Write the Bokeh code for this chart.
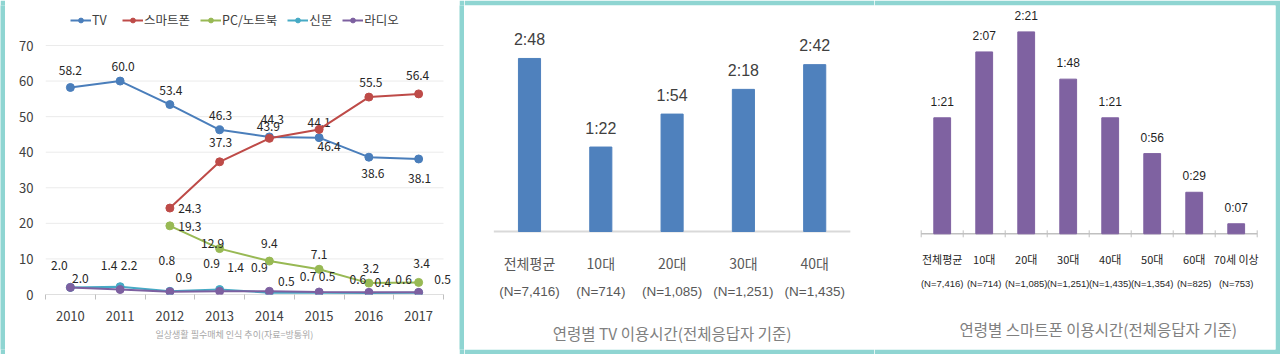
import math
from bokeh.plotting import figure
from bokeh.layouts import row, column
from bokeh.models import (ColumnDataSource, Range1d, FixedTicker, Legend, LegendItem, Title)
from bokeh.core.properties import value
from bokeh.embed import file_html
from bokeh.resources import INLINE

# ---------------- data ----------------
years = [2010, 2011, 2012, 2013, 2014, 2015, 2016, 2017]
y_ticks = [0, 10, 20, 30, 40, 50, 60, 70]

tv = [58.2, 60.0, 53.4, 46.3, 44.3, 44.1, 38.6, 38.1]
smartphone_years = [2012, 2013, 2014, 2015, 2016, 2017]
smartphone = [24.3, 37.3, 43.9, 46.4, 55.5, 56.4]
pc_years = [2012, 2013, 2014, 2015, 2016, 2017]
pc = [19.3, 12.9, 9.4, 7.1, 3.2, 3.4]
newspaper = [2.0, 2.2, 0.9, 1.4, 0.5, 0.5, 0.4, 0.5]
radio = [2.0, 1.4, 0.8, 0.9, 0.9, 0.7, 0.6, 0.6]

series_names = ["TV", "스마트폰", "PC/노트북", "신문", "라디오"]
left_caption = "일상생활 필수매체 인식 추이(자료=방통위)"

tv_age_cats = ["전체평균", "10대", "20대", "30대", "40대"]
tv_age_n = ["(N=7,416)", "(N=714)", "(N=1,085)", "(N=1,251)", "(N=1,435)"]
tv_time = ["2:48", "1:22", "1:54", "2:18", "2:42"]
tv_caption = "연령별 TV 이용시간(전체응답자 기준)"

sp_age_cats = ["전체평균", "10대", "20대", "30대", "40대", "50대", "60대", "70세 이상"]
sp_age_n = ["(N=7,416)", "(N=714)", "(N=1,085)", "(N=1,251)", "(N=1,435)",
            "(N=1,354)", "(N=825)", "(N=753)"]
sp_time = ["1:21", "2:07", "2:21", "1:48", "1:21", "0:56", "0:29", "0:07"]
sp_caption = "연령별 스마트폰 이용시간(전체응답자 기준)"

# ---------------- styles ----------------
TEAL = "#8fd5d2"
C_TV, C_SP, C_PC, C_NEWS, C_RADIO = "#4a7ebb", "#be4b48", "#98b954", "#46aac5", "#7d60a0"
KR = "Noto Sans CJK KR"
NUM = "Liberation Sans"

# label offsets (screen px) for the line chart
tv_dx = [0, 3, 1, 1, 3, 0, 4, 1]
tv_dy = [-17, -15, -14, -14, -17, -15, 16, 20]
sp_dx = [20, 1, -1, 10, 2, -1]
sp_dy = [0, -19, -12, 17, -15, -18]
pc_dx = [20, -7, 0, 0, 2, 3]
pc_dy = [1, -5, -18, -15, -15, -19]
radio_dx = [-11, -11, -3, -8, -10, -11, -11, -15]
radio_dy = [-22, -24, -31, -28, -24, -16, -13, -13]
news_dx = [10, 9, 14, 16, 17, 8, 14, 24]
news_dy = [-9, -21, -14, -22, -11, -16, -11, -13]


def to_minutes(s):
    h, m = s.split(":")
    return int(h) * 60 + int(m)


def strip(w, h):
    s = figure(width=w, height=h, output_backend="svg", toolbar_location=None,
               x_axis_location=None, y_axis_location=None, min_border=0,
               outline_line_color=None, background_fill_color=TEAL, border_fill_color=TEAL)
    s.grid.visible = False
    return s


# ---------------- left: line chart ----------------
PX_PER_UNIT = 249 / 70.0
PX_PER_YEAR = 49.75
FRAME_W = 454 - 40 - 4
x_lo = years[0] - 0.5
x_hi = years[-1] + 0.5
left = figure(width=454, height=344, output_backend="svg", toolbar_location=None,
              x_range=Range1d(x_lo, x_lo + FRAME_W / PX_PER_YEAR),
              y_range=Range1d(0, 289 / PX_PER_UNIT),
              min_border_left=40, min_border_right=4, min_border_top=0, min_border_bottom=55,
              outline_line_color=None, background_fill_color="white", border_fill_color="white")

left.grid.visible = False
# horizontal gridlines and base line only across the category span
left.segment(x0=x_lo, x1=x_hi, y0=y_ticks[1:], y1=y_ticks[1:], line_color="#ebebeb", line_width=1)
left.segment(x0=x_lo, x1=x_hi, y0=0, y1=0, line_color="#bfbfbf", line_width=1)

yax = left.yaxis[0]
yax.ticker = FixedTicker(ticks=y_ticks)
yax.axis_line_color = None
yax.major_tick_line_color = None
yax.minor_tick_line_color = None
yax.major_tick_in = 0
yax.major_tick_out = 0
yax.major_label_standoff = 12
yax.major_label_text_font = KR
yax.major_label_text_font_size = "13px"
yax.major_label_text_color = "#404040"

xax = left.xaxis[0]
xax.ticker = FixedTicker(ticks=years, minor_ticks=[y - 0.5 for y in years] + [x_hi])
xax.axis_line_color = None
xax.major_tick_line_color = None
xax.major_tick_in = 0
xax.major_tick_out = 0
xax.minor_tick_line_color = "#bfbfbf"
xax.minor_tick_in = 0
xax.minor_tick_out = 5
xax.major_label_standoff = 11
xax.major_label_text_font = KR
xax.major_label_text_font_size = "13px"
xax.major_label_text_color = "#404040"

caption = Title(text=left_caption, align="left", offset=110, text_font=KR,
                text_font_size="9px", text_font_style="normal", text_color="#a6a6a6",
                standoff=5)
left.add_layout(caption, "below")

series = [
    (years, tv, C_TV, tv_dx, tv_dy),
    (smartphone_years, smartphone, C_SP, sp_dx, sp_dy),
    (pc_years, pc, C_PC, pc_dx, pc_dy),
    (years, newspaper, C_NEWS, news_dx, news_dy),
    (years, radio, C_RADIO, radio_dx, radio_dy),
]
items = []
for name, (xs, ys, col, dx, dy) in zip(series_names, series):
    src = ColumnDataSource(dict(x=xs, y=ys, lab=[f"{v:.1f}" for v in ys], dx=dx, dy=dy))
    lr = left.line("x", "y", source=src, line_color=col, line_width=2)
    sr = left.scatter("x", "y", source=src, size=8, fill_color=col, line_color=col)
    items.append(LegendItem(label=name, renderers=[lr, sr]))
    left.text("x", "y", text="lab", source=src, x_offset="dx", y_offset="dy",
              text_align="center", text_baseline="middle",
              text_font=value(KR), text_font_size="12px", text_color="#262626")

legend = Legend(items=items, orientation="horizontal", location=(25, 265),
                border_line_color=None, background_fill_alpha=0,
                label_text_font=KR, label_text_font_size="12.5px", label_text_color="#404040",
                glyph_width=21, glyph_height=12, label_standoff=1, spacing=10,
                padding=0, margin=0)
left.add_layout(legend, "center")


# ---------------- bar charts ----------------
def bar_chart(width, cats, ns, times, color, x_rng, y_rng, bar_w, cfg, borders):
    bl, br = borders
    p = figure(width=width + bl + br, height=354, output_backend="svg", toolbar_location=None,
               x_range=Range1d(*x_rng), y_range=Range1d(*y_rng),
               x_axis_location=None, y_axis_location=None,
               min_border_left=bl, min_border_right=br, min_border_top=5, min_border_bottom=5,
               outline_line_color=None,
               background_fill_color="white", border_fill_color=TEAL)
    p.grid.visible = False
    idx = list(range(len(cats)))
    mins = [to_minutes(t) for t in times]
    src = ColumnDataSource(dict(x=idx, top=mins, t=times, cat=cats, n=ns, zero=[0] * len(cats)))
    p.segment(x0=-0.5, y0=0, x1=len(cats) - 0.5, y1=0,
              line_color=cfg["axis_color"], line_width=cfg["axis_width"])
    if cfg["ticks"]:
        p.scatter(x=[i - 0.5 for i in range(len(cats) + 1)], y=0, marker="dash",
                  angle=math.pi / 2, size=7, line_color=cfg["axis_color"], line_width=1)
    p.vbar(x="x", top="top", bottom=0, width=bar_w, source=src,
           fill_color=color, line_color=color)
    p.text("x", "top", text="t", source=src, y_offset=cfg["val_dy"],
           text_align="center", text_baseline="middle",
           text_font=value(NUM), text_font_size=cfg["val_size"], text_color=cfg["val_color"])
    p.text("x", "zero", text="cat", source=src, y_offset=cfg["cat_dy"],
           text_align="center", text_baseline="middle",
           text_font=value(KR), text_font_size=cfg["cat_size"], text_color=cfg["cat_color"])
    p.text("x", "zero", text="n", source=src, y_offset=cfg["n_dy"],
           text_align="center", text_baseline="middle",
           text_font=value(NUM), text_font_size=cfg["n_size"], text_color=cfg["cat_color"])
    p.text(x=[(len(cats) - 1) / 2], y=[0], text=[cfg["caption"]], x_offset=cfg["cap_dx"],
           y_offset=cfg["cap_dy"], text_align="center", text_baseline="middle",
           text_font=value(KR), text_font_size="15.5px", text_color="#808080")
    return p


mid = bar_chart(410, tv_age_cats, tv_age_n, tv_time, "#4f81bd",
                (-65 / 71.3, (410 - 65) / 71.3), (-(344 - 226) / 1.03, 226 / 1.03), 0.31,
                dict(axis_color="#d9d9d9", axis_width=2, ticks=False,
                     val_dy=-19, val_size="16px", val_color="#404040",
                     cat_dy=31, cat_size="14px", n_dy=60, n_size="13.5px", cat_color="#595959",
                     caption=tv_caption, cap_dx=0, cap_dy=101),
                (0, 0))

rgt = bar_chart(401, sp_age_cats, sp_age_n, sp_time, "#7f62a1",
                (-67.7 / 42, (401 - 67.7) / 42), (-(344 - 228.3) / 1.432, 228.3 / 1.432), 0.40,
                dict(axis_color="#c0c0c0", axis_width=1.5, ticks=True,
                     val_dy=-16, val_size="12px", val_color="#1f1f1f",
                     cat_dy=25, cat_size="11px", n_dy=50, n_size="9.5px", cat_color="#262626",
                     caption=sp_caption, cap_dx=9, cap_dy=95),
                (0, 5))

layout = row(strip(5, 354),
             column(strip(454, 5), left, strip(454, 5), spacing=0),
             strip(5, 354),
             mid, rgt, spacing=0)

open("out.html", "w").write(file_html(layout, INLINE))
